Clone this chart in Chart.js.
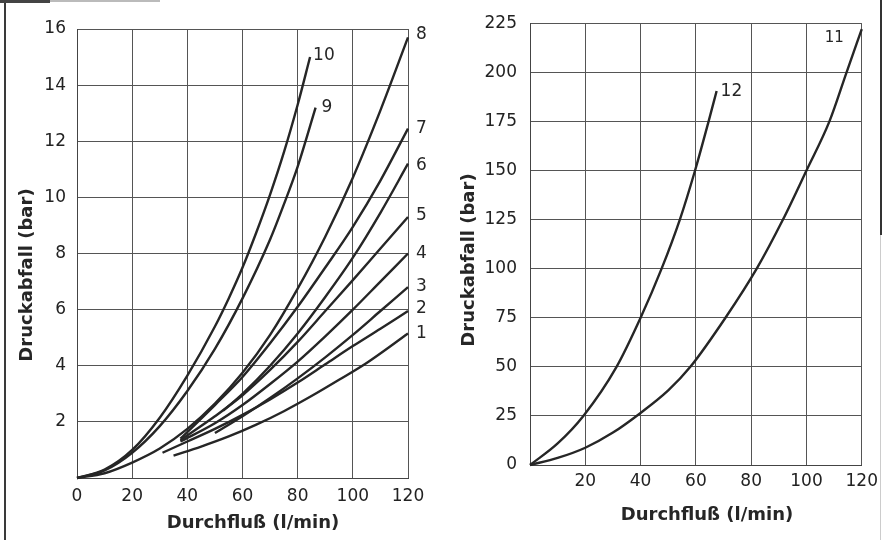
<!DOCTYPE html>
<html>
<head>
<meta charset="utf-8">
<script src="https://cdn.jsdelivr.net/npm/chart.js@4.4.0/dist/chart.umd.min.js"></script>
<style>
  html, body { margin: 0; padding: 0; background: #fff; }
  #wrap { position: relative; width: 884px; height: 540px; overflow: hidden; background: #fff; }
  #c1 { position: absolute; left: 0; top: 0; }
  #c2 { position: absolute; left: 440px; top: 0; }
  .fl { position: absolute; left: 4px; top: 0; width: 2px; height: 540px; background: #3a3a3a; }
  .fr { position: absolute; left: 880px; top: 0; width: 2px; height: 235px; background: #333; }
  .fr2 { position: absolute; left: 880px; top: 235px; width: 1px; height: 305px; background: #ccc; }
  .ft { position: absolute; left: 0; top: 0; width: 50px; height: 3px; background: #444; }
  .ft2 { position: absolute; left: 50px; top: 0; width: 110px; height: 2px; background: #bbb; }
</style>
</head>
<body>
<div id="wrap">
  <div class="fl"></div><div class="fr"></div><div class="fr2"></div><div class="ft"></div><div class="ft2"></div>
  <canvas id="c1" width="450" height="540"></canvas>
  <canvas id="c2" width="444" height="540"></canvas>
</div>
<script>
// ---------- tick labels ----------
const leftXTicks  = [0, 20, 40, 60, 80, 100, 120];
const leftYTicks  = [2, 4, 6, 8, 10, 12, 14, 16];
const rightXTicks = [20, 40, 60, 80, 100, 120];
const rightYTicks = [0, 25, 50, 75, 100, 125, 150, 175, 200, 225];

// ---------- series (x = Durchfluß l/min, y = Druckabfall bar) ----------
const curve1  = [[35,0.8],[45,1.12],[55,1.48],[65,1.9],[75,2.38],[85,2.92],[95,3.5],[105,4.1],[120,5.15]];
const curve2  = [[31,0.9],[40,1.3],[50,1.75],[60,2.25],[70,2.8],[80,3.4],[90,4.05],[100,4.7],[110,5.32],[120,5.95]];
const curve3  = [[50,1.6],[60,2.2],[70,2.85],[80,3.55],[90,4.3],[100,5.1],[110,5.95],[120,6.8]];
const curve4  = [[37.5,1.3],[50,1.95],[60,2.6],[70,3.35],[80,4.15],[90,5.05],[100,6.0],[110,7.0],[120,8.0]];
const curve5  = [[37.5,1.35],[50,2.2],[60,2.95],[70,3.85],[80,4.85],[90,5.95],[100,7.05],[110,8.18],[120,9.3]];
const curve6  = [[53,2.4],[60,3.0],[70,4.0],[80,5.15],[90,6.45],[100,7.85],[110,9.45],[120,11.2]];
const curve7  = [[37.5,1.4],[50,2.6],[60,3.6],[70,4.8],[80,6.1],[90,7.5],[100,8.95],[110,10.6],[120,12.45]];
const curve8  = [[0,0],[10,0.17],[20,0.55],[30,1.05],[40,1.75],[50,2.65],[60,3.75],[70,5.1],[80,6.75],[90,8.6],[100,10.7],[110,13.1],[120,15.7]];
const curve9  = [[0,0],[10,0.27],[20,0.9],[30,1.85],[40,3.1],[50,4.6],[60,6.4],[70,8.5],[75,9.75],[80,11.1],[86.5,13.2]];
const curve10 = [[0,0],[10,0.3],[20,1.0],[30,2.15],[40,3.65],[50,5.4],[55,6.4],[60,7.5],[65,8.75],[70,10.1],[75,11.6],[80,13.3],[84.5,15.0]];
const curve11 = [[0,0],[10,3.6],[20,8.8],[30,16.5],[39.5,26],[50,38],[58,50],[70.7,75],[82,100],[91.5,125],[100,150],[108.3,175],[114.5,200],[120,222]];
const curve12 = [[0,0],[10,11],[19.3,25],[31.3,50],[40,75],[47.6,100],[54.2,125],[59.7,150],[64.6,175],[67.5,190.5]];

const leftSeries  = [curve1, curve2, curve3, curve4, curve5, curve6, curve7, curve8, curve9, curve10];
const leftNames   = ['1','2','3','4','5','6','7','8','9','10'];
const rightSeries = [curve11, curve12];
const rightNames  = ['11','12'];

const FONT = "'DejaVu Sans', 'Liberation Sans', Arial, sans-serif";
const INK = '#262626';

const textPlugin = {
  id: 'texts',
  afterDatasetsDraw(chart, args, opts) {
    const ctx = chart.ctx, xs = chart.scales.x, ys = chart.scales.y;
    ctx.save();
    ctx.fillStyle = INK;
    (opts.curveLabels || []).forEach(l => {
      const pts = chart.data.datasets[l.ds].data;
      const last = pts[pts.length - 1];
      const px = xs.getPixelForValue(last.x) + l.dx;
      const py = ys.getPixelForValue(last.y) + l.dy;
      ctx.font = (l.size || 17) + 'px ' + FONT;
      ctx.textAlign = l.align || 'left';
      ctx.textBaseline = 'middle';
      ctx.fillText(chart.data.datasets[l.ds].label, px, py);
    });
    (opts.titles || []).forEach(t => {
      ctx.save();
      ctx.translate(t.x, t.y);
      ctx.rotate(t.rot || 0);
      ctx.font = 'bold 18px ' + FONT;
      ctx.textAlign = 'center';
      ctx.textBaseline = 'middle';
      ctx.fillText(t.text, 0, 0);
      ctx.restore();
    });
    ctx.restore();
  }
};

function toPts(arr) { return arr.map(p => ({ x: p[0], y: p[1] })); }

function makeChart(id, series, names, cfg) {
  const datasets = series.map((s, i) => ({
    label: names[i],
    data: toPts(s),
    showLine: true,
    borderColor: INK,
    borderWidth: 2.4,
    pointRadius: 0,
    fill: false,
    cubicInterpolationMode: 'monotone',
    clip: 4
  }));
  const axisCommon = {
    type: 'linear',
    grid: { color: '#555', lineWidth: 1, drawTicks: false },
    border: { display: true, color: '#444', width: 1 },
    ticks: { color: '#222', font: { family: FONT, size: 17 }, autoSkip: false, maxRotation: 0 }
  };
  return new Chart(document.getElementById(id), {
    type: 'scatter',
    data: { datasets },
    options: {
      responsive: false,
      animation: false,
      events: [],
      layout: { padding: cfg.padding },
      plugins: { legend: { display: false }, tooltip: { enabled: false },
                 texts: { curveLabels: cfg.curveLabels, titles: cfg.titles } },
      scales: {
        x: Object.assign({}, axisCommon, {
          min: cfg.xMin, max: cfg.xMax,
          afterBuildTicks: s => { s.ticks = cfg.xTicks.map(v => ({ value: v })); },
          afterFit: s => { s.height = cfg.xHeight; },
          ticks: Object.assign({}, axisCommon.ticks, { padding: cfg.xPad })
        }),
        y: Object.assign({}, axisCommon, {
          min: cfg.yMin, max: cfg.yMax,
          afterBuildTicks: s => { s.ticks = cfg.yTicks.map(v => ({ value: v })); },
          afterFit: s => { s.width = cfg.yWidth; },
          ticks: Object.assign({}, axisCommon.ticks, { padding: cfg.yPad })
        })
      }
    },
    plugins: [textPlugin]
  });
}

makeChart('c1', leftSeries, leftNames, {
  xMin: 0, xMax: 120, yMin: 0, yMax: 16,
  xTicks: leftXTicks, yTicks: leftYTicks,
  padding: { top: 29, right: 42, bottom: 0, left: 0 },
  xHeight: 62, yWidth: 77, xPad: 8, yPad: 11,
  curveLabels: [
    { ds: 0, dx: 8, dy: 0 }, { ds: 1, dx: 8, dy: -2 }, { ds: 2, dx: 8, dy: -1 },
    { ds: 3, dx: 8, dy: 0 }, { ds: 4, dx: 8, dy: -1 }, { ds: 5, dx: 8, dy: 2 },
    { ds: 6, dx: 8, dy: 0 }, { ds: 7, dx: 8, dy: -3 }, { ds: 8, dx: 6, dy: 0 },
    { ds: 9, dx: 3, dy: -1 }
  ],
  titles: [
    { text: 'Druckabfall (bar)', x: 27, y: 275, rot: -Math.PI / 2 },
    { text: 'Durchfluß (l/min)', x: 253, y: 523 }
  ]
});

makeChart('c2', rightSeries, rightNames, {
  xMin: 0, xMax: 120, yMin: 0, yMax: 225,
  xTicks: rightXTicks, yTicks: rightYTicks,
  padding: { top: 17, right: 21, bottom: 0, left: 0 },
  xHeight: 75, yWidth: 90, xPad: 6, yPad: 13,
  curveLabels: [
    { ds: 0, dx: -18, dy: 9, align: 'right', size: 15 },
    { ds: 1, dx: 4, dy: 1 }
  ],
  titles: [
    { text: 'Druckabfall (bar)', x: 29, y: 260, rot: -Math.PI / 2 },
    { text: 'Durchfluß (l/min)', x: 267, y: 515 }
  ]
});
</script>
</body>
</html>
